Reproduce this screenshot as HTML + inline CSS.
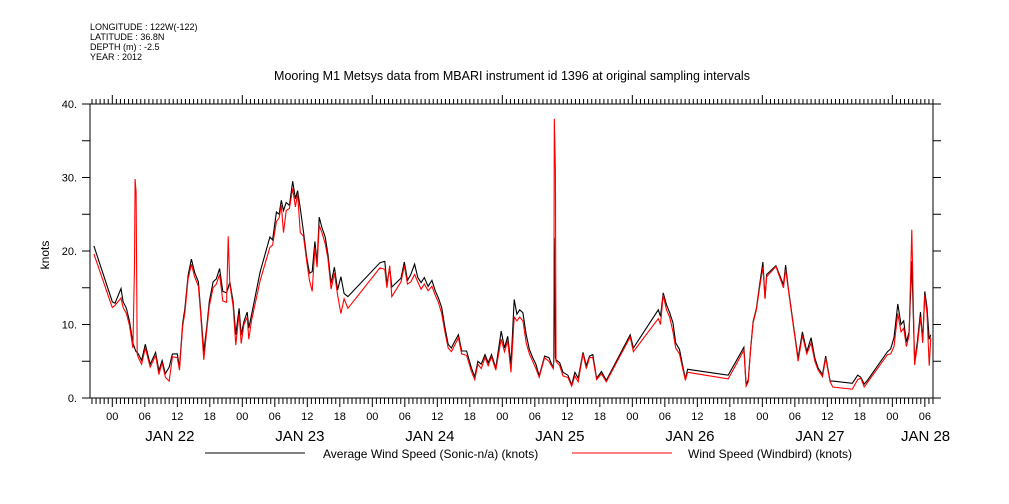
<!DOCTYPE html>
<html><head><meta charset="utf-8">
<style>
html,body{margin:0;padding:0;background:#fff;}
svg{display:block;font-family:"Liberation Sans",sans-serif;}
</style></head>
<body>
<svg id="chart" width="1009" height="504" viewBox="0 0 1009 504" xmlns="http://www.w3.org/2000/svg">
<g font-size="9" fill="#000">
<text x="90" y="30">LONGITUDE : 122W(-122)</text>
<text x="90" y="40">LATITUDE : 36.8N</text>
<text x="90" y="50">DEPTH (m) : -2.5</text>
<text x="90" y="60">YEAR : 2012</text>
</g>
<text x="512" y="80" text-anchor="middle" font-size="12.5">Mooring M1 Metsys data from MBARI instrument id 1396 at original sampling intervals</text>
<text transform="translate(49,255) rotate(-90)" text-anchor="middle" font-size="12">knots</text>
<g id="axes"></g>
<g id="series"></g>
<g font-size="12">
<line x1="205" y1="453" x2="305" y2="453" stroke="#000"/>
<text x="323" y="458">Average Wind Speed (Sonic-n/a) (knots)</text>
<line x1="572" y1="453" x2="672" y2="453" stroke="#f00"/>
<text x="688" y="458">Wind Speed (Windbird) (knots)</text>
</g>
</svg>
<script>
const hours=[-3.4,0,0.5,1.6,2.0,2.6,3.2,3.8,4.1,4.2,4.4,4.6,4.8,5.4,6.1,7,8,8.6,9.2,9.8,10.5,11.1,12,12.4,13,13.4,14,14.6,15.2,15.9,16.3,16.9,17.4,17.9,18.6,19.2,19.8,20.4,21.1,21.4,21.7,22.3,22.8,23.4,23.8,24.3,24.9,25.2,25.7,27.3,29.1,29.6,30.3,30.8,31.2,31.6,32.1,32.7,33.3,33.8,34.2,34.7,35.3,35.9,36.4,36.9,37.4,37.8,38.2,38.7,39.3,39.8,40.4,41,41.6,42.2,42.8,43.5,49.4,50.3,50.7,51.2,51.6,53.3,53.9,54.5,55.1,55.8,56.4,57,57.6,58.3,59,59.6,60.2,60.8,61.4,62,62.6,63.2,63.9,64.5,65.4,66.3,66.9,67.5,68.1,68.8,69.4,70,70.8,71.8,72.4,73,73.6,74.2,74.7,75.2,75.8,76.4,77,77.6,78.2,78.8,79.8,80.6,81.4,81.5,81.6,81.8,81.9,82.6,83.2,84.1,84.8,85.4,86,86.9,87.5,88.1,88.7,89.4,90.3,91.2,95.6,96.2,100.8,101.2,101.7,102.3,102.9,103.5,104,104.7,105.3,105.8,106.2,113.7,116.6,117,117.4,117.8,118.3,118.9,119.5,120.1,120.5,120.8,122.5,123.9,124.3,124.8,125.4,126,126.6,127.4,128.2,129,129.7,130.3,131.1,131.7,132.5,133,136.6,137.6,138.2,138.8,139.3,143.1,143.7,144.3,145,145.6,146.1,146.6,147.1,147.6,148.1,148.6,149.2,149.6,150,150.4,150.8,151.1];
const avgSpeed=[20.7,13.1,12.9,14.9,13.1,12.2,10.4,7.5,6.9,6.6,6.3,6.2,6.0,5.1,7.3,4.6,6.2,3.7,5.1,3.3,4.2,6.0,6.0,4.2,10.2,12.2,16.7,18.9,17.1,15.8,12.0,6.3,9.5,13.1,15.8,16.2,17.6,14.5,14.3,15.0,15.8,13.1,8.6,12.2,8.6,10.4,11.7,9.5,11.3,17.2,21.9,21.5,25.3,25.0,26.9,25.5,26.6,26.2,29.5,27.1,28.2,25.8,22.6,19.0,17.0,17.2,21.3,18.4,24.6,23.2,21.9,19.6,15.6,17.8,14.7,16.5,14.2,13.8,18.4,18.6,15.5,17.8,15.1,16.3,18.5,16.0,16.8,18.2,16.4,15.7,16.4,15.2,16.0,14.6,13.6,12.3,9.6,7.3,6.8,7.7,8.6,6.4,6.4,4.1,2.9,5.0,4.6,5.9,4.8,5.9,4.1,9.1,6.8,8.4,4.6,13.4,11.4,12.0,11.6,8.6,6.6,5.5,4.6,3.0,5.7,5.5,4.1,5.0,21.8,5.5,5.2,4.8,3.5,3.1,1.8,3.5,2.7,6.2,4.4,5.7,5.9,2.7,3.6,2.4,8.6,6.8,12.0,11.1,14.3,12.7,11.6,10.2,7.5,6.6,4.4,2.6,3.9,3.1,6.9,1.8,2.5,6.4,10.4,12.2,15.4,18.5,13.6,16.8,18.0,15.4,18.1,15.0,11.7,8.6,5.4,9.0,6.3,8.2,5.4,4.1,3.2,5.7,2.3,2.3,2.0,3.1,2.8,1.9,2.3,6.3,6.7,8.2,12.8,10.0,10.5,7.6,9.0,18.6,4.9,7.6,11.7,7.8,14.5,12.3,8.0,8.6];
const windbirdSpeed=[19.6,12.3,12.6,13.6,12.3,11.5,9.8,6.8,18,29.8,28,6.0,5.5,4.6,6.8,4.2,5.8,3.2,4.8,2.8,2.3,5.6,5.5,3.8,9.8,11.6,16.2,18.2,16.5,15.2,11.5,5.2,9.0,12.5,15.0,15.5,16.8,13.2,13.0,22.0,15.5,12.5,7.2,11.5,7.4,10.0,11.0,8.0,10.5,16.0,20.5,20.8,24.0,24.5,26.2,22.5,25.5,25.8,28.5,26.0,27.8,22.5,22.0,18.5,16.0,14.5,20.5,17.8,23.5,22.5,21.0,19.0,14.8,17.0,14.0,11.5,13.5,12.2,17.7,17.5,15.0,18.0,13.8,15.8,18.0,15.5,15.8,16.8,15.8,14.8,15.5,14.6,15.2,14.0,13.0,11.5,9.0,6.8,6.3,7.2,8.2,6.0,5.8,3.6,2.5,4.6,4.0,5.5,4.4,5.6,3.8,8.0,6.3,7.8,3.5,11.0,10.5,11.0,10.5,7.5,6.0,5.0,4.0,2.8,5.5,5.0,4.0,5.5,38.0,31.0,5.0,4.4,3.0,2.8,1.6,3.0,2.2,6.0,4.0,5.5,5.5,2.5,3.3,2.2,8.3,6.3,10.8,10.0,14.0,12.0,11.0,9.0,6.8,6.0,4.0,2.4,3.5,2.6,6.5,1.6,2.2,6.2,10.2,12.0,15.0,17.8,13.5,16.5,17.9,15.0,17.5,14.8,11.5,8.4,5.0,8.5,6.0,7.5,5.0,3.8,2.9,5.4,2.2,1.5,1.2,2.5,2.7,1.5,2.0,5.9,6.0,7.0,11.5,9.0,9.5,7.0,8.5,22.9,4.5,7.0,11.0,7.5,14.0,11.5,4.4,8.2];
const yTickValues=[0,5,10,15,20,25,30,35,40];
const yLabelValues=[0,10,20,30,40];
const hourLabels=["00","06","12","18"];
const dayLabels=["JAN 22","JAN 23","JAN 24","JAN 25","JAN 26","JAN 27","JAN 28"];

const NS="http://www.w3.org/2000/svg";
const L=90,R=933,T=104,B=398;
function xScale(h){return 112.3+h*5.417;}
function yScale(v){return B-v*7.35;}
function mk(tag,attrs,parent){const e=document.createElementNS(NS,tag);for(const k in attrs)e.setAttribute(k,attrs[k]);parent.appendChild(e);return e;}
const axes=document.getElementById('axes');
const frame=mk('rect',{x:L,y:T,width:R-L,height:B-T,fill:'none',stroke:'#000','stroke-width':1},axes);


yTickValues.forEach(v=>{
  const y=yScale(v);
  const t1=mk('line',{x1:L-8,y1:y,x2:L,y2:y,stroke:'#000'},axes);
  
  
  const t2=mk('line',{x1:R,y1:y,x2:R+8,y2:y,stroke:'#000'},axes);
  
  
});
yLabelValues.forEach(v=>{
  const t=mk('text',{x:77,y:yScale(v)+4,'text-anchor':'end','font-size':11},axes);
  t.textContent=v+".";
  
  
});
for(let k=-8;k<=210;k++){
  const h=k*0.75;
  const x=xScale(h); if(x<L-0.5||x>R+0.5) continue;
  const major=(k%8===0);
  const day=(k%32===0);
  const tb=mk('line',{x1:x,y1:B,x2:x,y2:B+(major?9:6),stroke:'#000'},axes);
  
  
  const tt=mk('line',{x1:x,y1:T,x2:x,y2:T-(day?9:5),stroke:'#000'},axes);
  
  
  if(major){
    const t=mk('text',{x:x,y:B+22,'text-anchor':'middle','font-size':11},axes);
    t.textContent=hourLabels[(((k/8)%4)+4)%4];
    
    
  }
}
dayLabels.forEach((d,i)=>{
  let h=i*24+11; if(i===6) h=144+6.5;
  const t=mk('text',{x:xScale(h)-2,y:B+43,'text-anchor':'middle','font-size':15},axes);
  t.textContent=d;
  
  
});
const series=document.getElementById('series');
function pts(arr){return hours.map((h,i)=>xScale(h).toFixed(1)+","+yScale(arr[i]).toFixed(1)).join(" ");}
const bl=mk('polyline',{points:pts(avgSpeed),fill:'none',stroke:'#000','stroke-width':1.1},series);


const rl=mk('polyline',{points:pts(windbirdSpeed),fill:'none',stroke:'#f00','stroke-width':1.1},series);


</script>
</body></html>
